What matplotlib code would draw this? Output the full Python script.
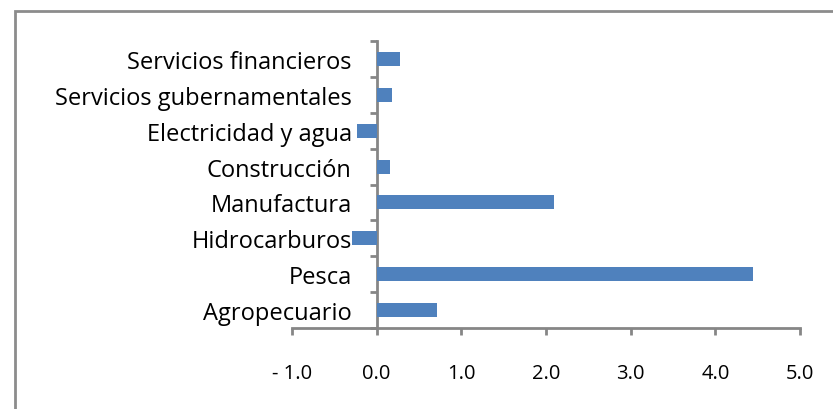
#!/usr/bin/env python3
"""Horizontal bar chart: variation by economic sector."""
import matplotlib
matplotlib.use("Agg")
import matplotlib.pyplot as plt
from matplotlib.patches import Rectangle
from matplotlib.ticker import FixedLocator
import numpy as np

# data (bottom to top)
SECTORS = [
    "Agropecuario",
    "Pesca",
    "Hidrocarburos",
    "Manufactura",
    "Construcción",
    "Electricidad y agua",
    "Servicios gubernamentales",
    "Servicios financieros",
]
VALUES = [0.71, 4.45, -0.29, 2.09, 0.16, -0.23, 0.18, 0.28]
X_TICKS = [-1, 0, 1, 2, 3, 4, 5]
X_TICK_LABELS = ["- 1.0", "0.0", "1.0", "2.0", "3.0", "4.0", "5.0"]

BAR_COLOR = "#4F81BD"
AXIS_COLOR = "#868686"

plt.rcParams.update(
    {
        "font.family": ["Open Sans", "DejaVu Sans"],
        "figure.dpi": 100,
    }
)

fig = plt.figure(figsize=(8.33, 4.10))
ax = fig.add_axes([292 / 833, 1 - 329 / 410, 508 / 833, 287 / 410])

y = np.arange(len(SECTORS))
ax.barh(y, VALUES, height=0.39, color=BAR_COLOR, zorder=3)

ax.set_xlim(-1, 5)
ax.set_ylim(-0.5, len(SECTORS) - 0.5)

ax.spines["top"].set_visible(False)
ax.spines["right"].set_visible(False)
ax.spines["left"].set_position(("data", 0))
for side in ("left", "bottom"):
    ax.spines[side].set_color(AXIS_COLOR)
    ax.spines[side].set_linewidth(2)

ax.set_xticks(X_TICKS)
ax.set_xticklabels(X_TICK_LABELS, fontsize=14.5)
ax.tick_params(axis="x", length=5, width=2, color=AXIS_COLOR, pad=20, labelcolor="black")

ax.set_yticks(y)
ax.set_yticklabels(SECTORS, fontsize=17)
ax.yaxis.set_minor_locator(FixedLocator(np.arange(-0.5, len(SECTORS), 1.0)))
ax.tick_params(axis="y", which="major", length=0, pad=18, labelcolor="black")
ax.tick_params(axis="y", which="minor", length=5, width=2, color=AXIS_COLOR)

# outer chart frame
fig.patches.append(
    Rectangle((15 / 833, -0.1), 1.0, 1 - 12 / 410 + 0.1, transform=fig.transFigure,
              fill=False, edgecolor="#8C8C8C", linewidth=2)
)

fig.savefig("out.png", dpi=100)
plt.close(fig)
